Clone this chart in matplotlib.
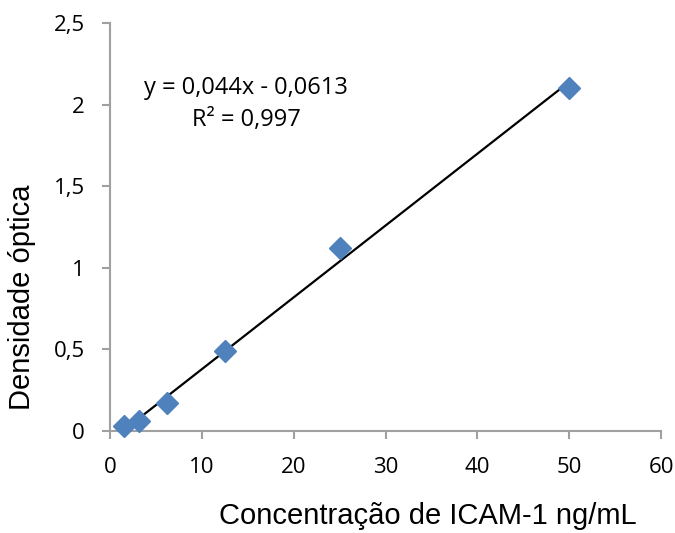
import numpy as np
import matplotlib.pyplot as plt

conc = [1.5625, 3.125, 6.25, 12.5, 25, 50]
od = [0.03, 0.06, 0.17, 0.49, 1.12, 2.10]
slope = 0.044
intercept = -0.0613
xticks = [0, 10, 20, 30, 40, 50, 60]
yticks = [0, 0.5, 1, 1.5, 2, 2.5]
ytick_labels = ['0', '0,5', '1', '1,5', '2', '2,5']

plt.rcParams['font.family'] = ['Liberation Sans', 'DejaVu Sans']

W, H = 675, 533
fig = plt.figure(figsize=(W / 100, H / 100), dpi=100)
ax = fig.add_axes([110 / W, 1 - 431 / H, 551 / W, 408 / H])

xs = np.array([conc[0], conc[-1]])
ax.plot(xs, slope * xs + intercept, color='black', lw=1.6, zorder=2)
ax.plot(conc, od, 'D', color='#4F81BD', markersize=11.5, zorder=3, clip_on=False)

ax.set_xlim(0, 60)
ax.set_ylim(0, 2.5)
ax.set_xticks(xticks)
ax.set_xticklabels([str(t) for t in xticks])
ax.set_yticks(yticks)
ax.set_yticklabels(ytick_labels)

for s in ['top', 'right']:
    ax.spines[s].set_visible(False)
for s in ['left', 'bottom']:
    ax.spines[s].set_color('#A0A0A0')
    ax.spines[s].set_linewidth(1.5)
ax.tick_params(colors='#A0A0A0', labelcolor='black', labelsize=16, length=6, width=1.5, direction='out')
for lab in ax.get_xticklabels() + ax.get_yticklabels():
    lab.set_family(['Open Sans', 'DejaVu Sans'])
ax.tick_params(axis='x', pad=13)
ax.tick_params(axis='y', pad=12)

fig.text(428 / W, 1 - 516 / H, 'Concentração de ICAM-1 ng/mL', fontsize=21, ha='center', va='center')
fig.text(22 / W, 1 - 297 / H, 'Densidade óptica', fontsize=21, rotation=90, ha='center', va='center')

eq_font = ['Open Sans', 'DejaVu Sans']
fig.text(246 / W, 1 - 88 / H, 'y = 0,044x - 0,0613', ha='center', va='center', fontsize=17, family=eq_font)
fig.text(246 / W, 1 - 120 / H, 'R² = 0,997', ha='center', va='center', fontsize=17, family=eq_font)

fig.savefig('out.png', dpi=100)
